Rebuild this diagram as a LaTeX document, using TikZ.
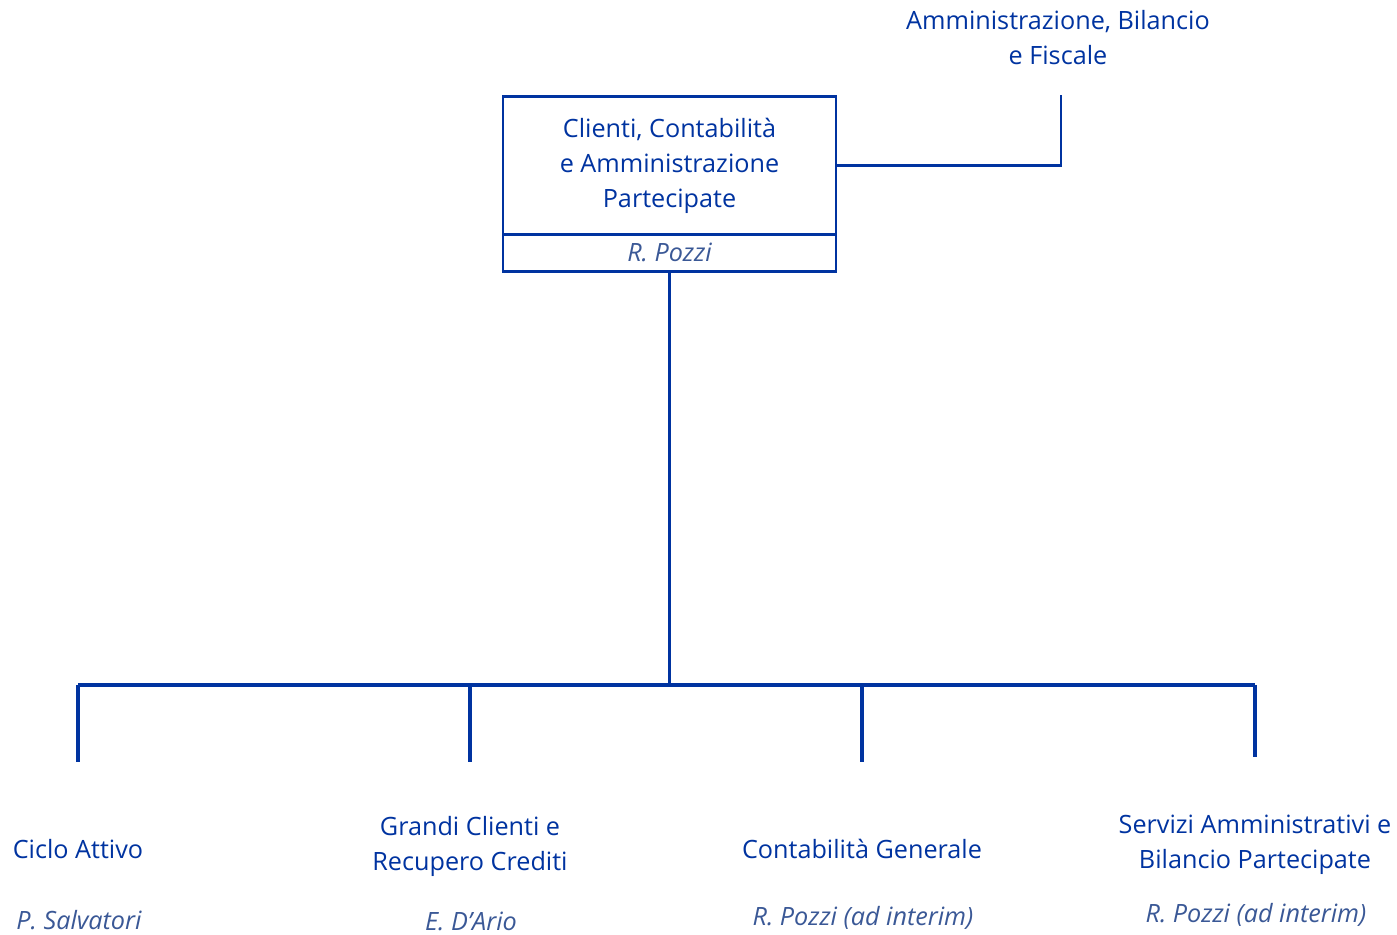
\documentclass[tikz,border=0pt]{standalone}
\usepackage{fontspec}
\setmainfont{Open Sans}
\definecolor{navy}{HTML}{0033A0}
\definecolor{namecol}{HTML}{3A5896}
\begin{document}
\begin{tikzpicture}[x=0.75pt,y=-0.75pt,
  unit/.style={text=navy,align=center,inner sep=0pt,font=\fontsize{18.9pt}{26.25pt}\selectfont},
  person/.style={text=namecol,align=center,inner sep=0pt,font=\fontsize{18.9pt}{26.25pt}\selectfont\itshape},
  boxline/.style={draw=navy,line width=2.1pt},
  conn/.style={draw=navy,line width=2.5pt},
  thin/.style={draw=navy,line width=1.7pt}]
\useasboundingbox (0,0) rectangle (1397,935);
% head box
\node[boxline,unit,minimum width=249.75pt,minimum height=103.5pt,anchor=north] (head) at (669.5,95) {Clienti, Contabilità\\e Amministrazione\\Partecipate};
\node[boxline,person,minimum width=249.75pt,minimum height=27.75pt,anchor=north] (headname) at (669.5,233) {R. Pozzi};
% top right
\node[unit] (admin) at (1058,38) {Amministrazione, Bilancio\\e Fiscale};
\coordinate (adminend) at (1061,95);
\draw[thin] (head.east) -| (adminend);
% trunk and bus
\coordinate (bus) at (669.5,685);
\draw[conn] (headname.south) -- (bus);
\coordinate (b1) at (78,685);
\coordinate (b2) at (470,685);
\coordinate (b3) at (862,685);
\coordinate (b4) at (1255,685);
\draw[conn] (b1) -- (b4);
\coordinate (d1) at (78,762);
\coordinate (d2) at (470,762);
\coordinate (d3) at (862,762);
\coordinate (d4) at (1255,757);
\draw[conn] (b1) -- (d1);
\draw[conn] (b2) -- (d2);
\draw[conn] (b3) -- (d3);
\draw[conn] (b4) -- (d4);
% children
\node[unit] (c1) at (78,849) {Ciclo Attivo};
\node[person] (p1) at (79,920) {P. Salvatori};
\node[unit] (c2) at (470,846) {Grandi Clienti e\\Recupero Crediti};
\node[person] (p2) at (471,921) {E. D’Ario};
\node[unit] (c3) at (862,849) {Contabilità Generale};
\node[person] (p3) at (863,918) {R. Pozzi (ad interim)};
\node[unit] (c4) at (1255,845) {Servizi Amministrativi e\\Bilancio Partecipate};
\node[person] (p4) at (1256,915) {R. Pozzi (ad interim)};
\end{tikzpicture}
\end{document}
